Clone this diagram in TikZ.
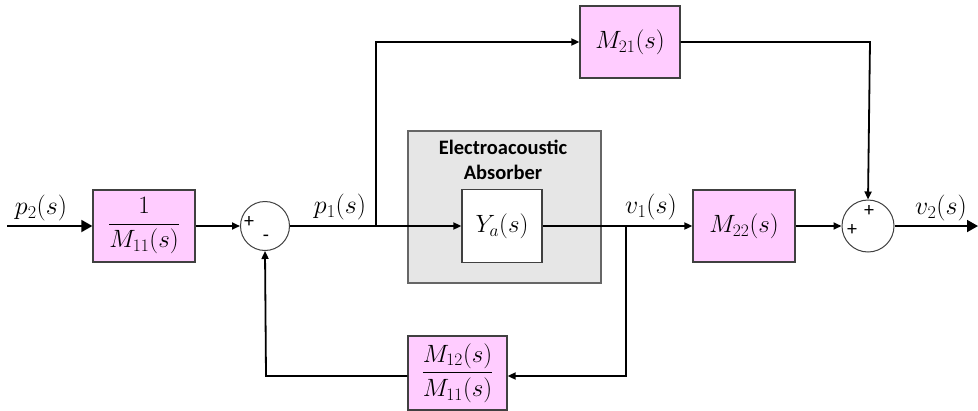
\documentclass[tikz,border=0pt]{standalone}
\usepackage{fix-cm}
\usepackage{amsmath}
\usepackage{fontspec}
\newfontfamily\calfont{Carlito}
\usetikzlibrary{arrows.meta}
\definecolor{pinkfill}{HTML}{FFCCFF}
\definecolor{grayfill}{HTML}{E6E6E6}
\definecolor{edge}{HTML}{404040}
\tikzset{
  blk/.style={draw=edge, line width=1.3pt, fill=pinkfill, minimum width=102pt, minimum height=72pt, inner sep=0pt, font=\fontsize{25}{28}\selectfont},
  sumnode/.style={draw=edge, circle, line width=1pt, minimum size=49pt, inner sep=0pt},
  sig/.style={line width=1.8pt, draw=black},
  arr/.style={sig, -{Triangle[length=8pt,width=7pt]}},
  bigarr/.style={sig, -{Triangle[length=11pt,width=12pt]}},
  lbl/.style={font=\fontsize{26}{28}\selectfont, inner sep=0pt},
  sign/.style={font=\calfont\fontsize{20}{22}\selectfont, inner sep=0pt}
}
\begin{document}
\begin{tikzpicture}[x=1pt,y=-1pt]
\useasboundingbox (0,0) rectangle (978,410);
% gray absorber box
\node[draw=edge!80, line width=1.3pt, fill=grayfill, minimum width=193pt, minimum height=152pt, inner sep=0pt] (abs) at (504.5,207) {};
\node[font=\calfont\bfseries\fontsize{20.5}{25}\selectfont, align=center, inner sep=0pt] (abstxt) at (503,160) {Electroacoustic\\Absorber};
% blocks
\node[blk] (b1) at (144,226) {$\dfrac{1}{M_{11}(s)}$};
\node[blk, fill=white, minimum width=80pt, minimum height=73pt] (ya) at (502,226) {$Y_a(s)$};
\node[blk] (m22) at (744,226) {$M_{22}(s)$};
\node[blk, minimum width=100pt] (m21) at (630,42) {$M_{21}(s)$};
\node[blk, minimum width=99pt, minimum height=74pt] (m12) at (457.5,373) {$\dfrac{M_{12}(s)}{M_{11}(s)}$};
% summing junctions
\node[sumnode] (s1) at (265,226) {};
\node[sumnode, minimum size=52pt] (s2) at (868,226) {};
\node[sign] (s1p) at (249,222) {+};
\node[sign] (s1m) at (266,238) {-};
\node[sign] (s2p1) at (869,211) {+};
\node[sign] (s2p2) at (852,230) {+};
% coordinates
\coordinate (in) at (7,226);
\coordinate (out) at (978,226);
\coordinate (br1) at (376,226);
\coordinate (br1t) at (376,42);
\coordinate (br2) at (626,226);
\coordinate (br2b) at (626,376);
\coordinate (fbl) at (266,376);
\coordinate (m21r) at (870,42);
% connectors
\draw[bigarr] (in) -- (b1.west);
\draw[arr] (b1.east) -- (s1.west);
\draw[arr] (s1.east) -- (ya.west);
\draw[arr] (br1) -- (br1t) -- (m21.west);
\draw[arr] (ya.east) -- (m22.west);
\draw[arr] (br2) -- (br2b) -- (br2b -| m12.east);
\draw[arr] (br2b -| m12.west) -- (fbl) -- (s1.south);
\draw[arr] (m22.east) -- (s2.west);
\draw[arr] (m21.east) -- (m21r) -- (s2.north);
\draw[bigarr] (s2.east) -- (out);
% labels
\node[lbl] (lp2) at (41,208) {$p_2(s)$};
\node[lbl] (lp1) at (340,207) {$p_1(s)$};
\node[lbl] (lv1) at (651,207) {$v_1(s)$};
\node[lbl] (lv2) at (941,208) {$v_2(s)$};
\end{tikzpicture}
\end{document}
